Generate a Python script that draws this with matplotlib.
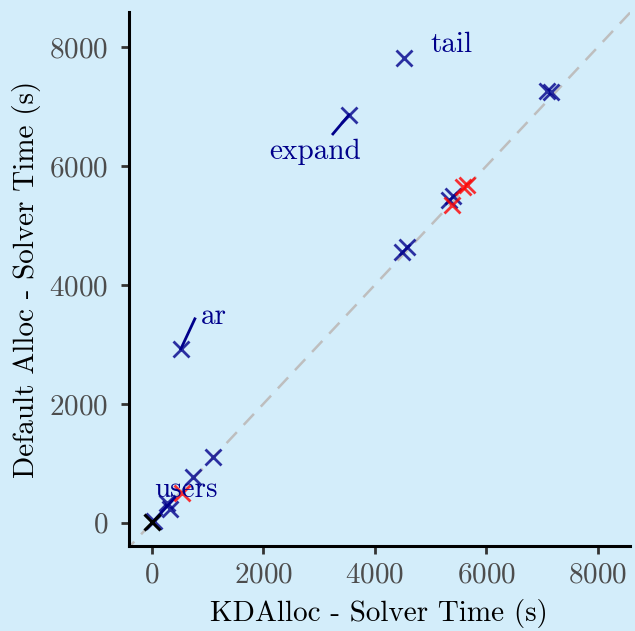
import matplotlib
matplotlib.use('Agg')
import matplotlib.pyplot as plt

plt.rcParams['font.family'] = ['cmr10', 'DejaVu Serif']
plt.rcParams['axes.formatter.use_mathtext'] = True

# points (KDAlloc time, default alloc time)
blue_x = [4520, 3534, 520, 7085, 7157, 5399, 5330, 4484, 4574, 1094, 735, 270, 320, 30]
blue_y = [7815, 6857, 2924, 7260, 7244, 5496, 5430, 4555, 4639, 1109, 770, 330, 230, 30]
red_x = [5381, 5578, 5650, 538]
red_y = [5345, 5647, 5681, 504]
black_x = [0]
black_y = [17]

# labelled programs: name, point, label position, segment start
labels = ['tail', 'expand', 'ar', 'users']
label_x = [4990, 2924, 1112, 610]
label_y = [8034, 6235, 3462, 555]
seg_x = [None, 3247, 771, 413]
seg_y = [None, 6538, 3429, 420]
point_x = [4520, 3534, 520, 0]
point_y = [7815, 6857, 2924, 0]
label_ha = ['left', 'center', 'center', 'center']

bg = '#D3EDFA'
navy = '#00008B'
fs = 21

fig, ax = plt.subplots(figsize=(6.35, 6.31), dpi=100)
fig.patch.set_facecolor(bg)
ax.set_facecolor(bg)

ax.plot([-500, 9000], [-500, 9000], color='#BEBEBE', lw=1.8, dashes=(6, 4), zorder=1)

for i in range(len(labels)):
    if seg_x[i] is not None:
        ax.plot([seg_x[i], point_x[i]], [seg_y[i], point_y[i]], color=navy, lw=2, zorder=2)

ax.plot(blue_x, blue_y, 'x', color=navy, alpha=0.8, ms=12, mew=2, zorder=3)
ax.plot(red_x, red_y, 'x', color='red', alpha=0.8, ms=12, mew=2, zorder=3)
ax.plot(black_x, black_y, 'x', color='black', ms=12, mew=2.2, zorder=4)

for i in range(len(labels)):
    ax.text(label_x[i], label_y[i], labels[i], color=navy, fontsize=fs,
            ha=label_ha[i], va='center', zorder=5)

ax.set_xlim(-412, 8574)
ax.set_ylim(-387, 8588)
ax.set_xticks([0, 2000, 4000, 6000, 8000])
ax.set_yticks([0, 2000, 4000, 6000, 8000])
ax.tick_params(axis='both', labelsize=fs, labelcolor='#4D4D4D', color='#333333',
               length=6, width=2, direction='out')
ax.tick_params(axis='x', pad=6)
ax.tick_params(axis='y', pad=9)
for s in ['top', 'right']:
    ax.spines[s].set_visible(False)
for s in ['left', 'bottom']:
    ax.spines[s].set_linewidth(2.2)
    ax.spines[s].set_color('black')

ax.set_xlabel('KDAlloc - Solver Time (s)', fontsize=fs, color='black', labelpad=7)
ax.set_ylabel('Default Alloc - Solver Time (s)', fontsize=fs, color='black', labelpad=6)

fig.subplots_adjust(left=0.203, right=0.992, top=0.981, bottom=0.135)
fig.savefig('out.png', dpi=100, facecolor=bg)
